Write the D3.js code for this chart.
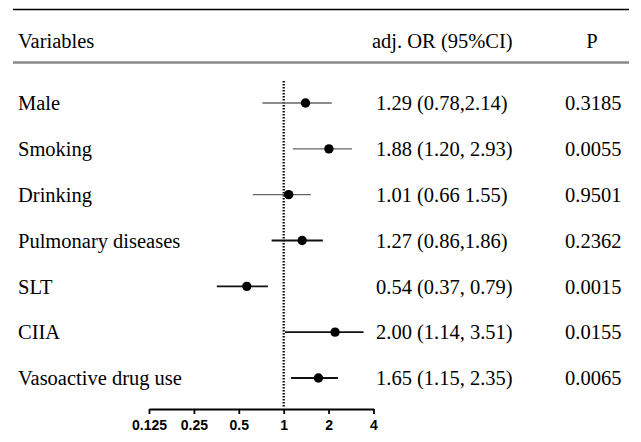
<!DOCTYPE html>
<html>
<head>
<meta charset="utf-8">
<script src="https://cdn.jsdelivr.net/npm/d3@7"></script>
<style>
  html, body { margin: 0; padding: 0; background: #fff; }
  svg text { font-family: "Liberation Serif", "Times New Roman", serif; }
</style>
</head>
<body>
<div id="chart"></div>
<script>
// Rows of the forest plot
var variables = ['Male', 'Smoking', 'Drinking', 'Pulmonary diseases', 'SLT', 'CIIA', 'Vasoactive drug use'];
// point estimates and CI ends as they are drawn in the picture
var orPlotted = [1.40, 2.01, 1.08, 1.33, 0.566, 2.21, 1.71];
var ciLow = [0.72, 1.15, 0.62, 0.83, 0.356, 1.02, 1.12];
var ciHigh = [2.10, 2.87, 1.52, 1.83, 0.784, 3.43, 2.31];
// printed columns
var orLabels = ['1.29 (0.78,2.14)', '1.88 (1.20, 2.93)', '1.01 (0.66 1.55)', '1.27 (0.86,1.86)',
    '0.54 (0.37, 0.79)', '2.00 (1.14, 3.51)', '1.65 (1.15, 2.35)'];
var pValues = ['0.3185', '0.0055', '0.9501', '0.2362', '0.0015', '0.0155', '0.0065'];
var tickValues = [0.125, 0.25, 0.5, 1, 2, 4];
var tickLabels = ['0.125', '0.25', '0.5', '1', '2', '4'];

var width = 641, height = 442;

var svg = d3.select('#chart').append('svg')
    .attr('width', width)
    .attr('height', height);

var x = d3.scaleLog().base(2).domain([0.125, 4]).range([149, 373.5]);
var y = d3.scalePoint().domain(variables).range([103, 378]);

// header rules
svg.append('line').attr('x1', 13).attr('x2', 629).attr('y1', 9.5).attr('y2', 9.5)
    .attr('stroke', '#000').attr('stroke-width', 1.5);
svg.append('line').attr('x1', 13).attr('x2', 629).attr('y1', 62.5).attr('y2', 62.5)
    .attr('stroke', '#888').attr('stroke-width', 2.5);

var fs = '20.5px';
svg.append('text').attr('x', 18).attr('y', 48).style('font-size', fs).text('Variables');
svg.append('text').attr('x', 372).attr('y', 48).style('font-size', fs).text('adj. OR (95%CI)');
svg.append('text').attr('x', 592).attr('y', 48).attr('text-anchor', 'middle').style('font-size', fs).text('P');

// reference line at OR = 1
svg.append('line')
    .attr('x1', x(1)).attr('x2', x(1))
    .attr('y1', 81).attr('y2', 408)
    .attr('stroke', '#000').attr('stroke-width', 2.2)
    .attr('stroke-dasharray', '1.6,1.4');

var rows = svg.append('g').selectAll('g')
    .data(variables)
    .join('g');

rows.append('text')
    .attr('x', 18)
    .attr('y', function (d) { return y(d); })
    .attr('dy', '0.35em')
    .style('font-size', fs)
    .text(function (d) { return d; });

rows.append('line')
    .attr('x1', function (d, i) { return x(ciLow[i]); })
    .attr('x2', function (d, i) { return x(ciHigh[i]); })
    .attr('y1', function (d) { return y(d); })
    .attr('y2', function (d) { return y(d); })
    .attr('stroke', function (d, i) { return i < 3 ? '#666' : '#111'; })
    .attr('stroke-width', function (d, i) { return i < 3 ? 1.4 : 1.8; });

rows.append('circle')
    .attr('cx', function (d, i) { return x(orPlotted[i]); })
    .attr('cy', function (d) { return y(d); })
    .attr('r', 4.7)
    .attr('fill', '#000');

rows.append('text')
    .attr('x', 376)
    .attr('y', function (d) { return y(d); })
    .attr('dy', '0.35em')
    .style('font-size', fs)
    .text(function (d, i) { return orLabels[i]; });

rows.append('text')
    .attr('x', 565)
    .attr('y', function (d) { return y(d); })
    .attr('dy', '0.35em')
    .style('font-size', fs)
    .text(function (d, i) { return pValues[i]; });

// x axis
var axis = svg.append('g')
    .attr('transform', 'translate(0,409)')
    .call(d3.axisBottom(x)
        .tickValues(tickValues)
        .tickFormat(function (d, i) { return tickLabels[i]; })
        .tickSize(5)
        .tickSizeOuter(0)
        .tickPadding(6));

axis.select('.domain').attr('stroke', '#000').attr('stroke-width', 1.8);
axis.selectAll('.tick line').attr('stroke', '#000').attr('stroke-width', 1.8);
axis.selectAll('.tick text')
    .style('font-family', '"Liberation Sans", Arial, sans-serif')
    .style('font-size', '14px')
    .style('font-weight', 'bold')
    .attr('fill', '#000');
</script>
</body>
</html>
